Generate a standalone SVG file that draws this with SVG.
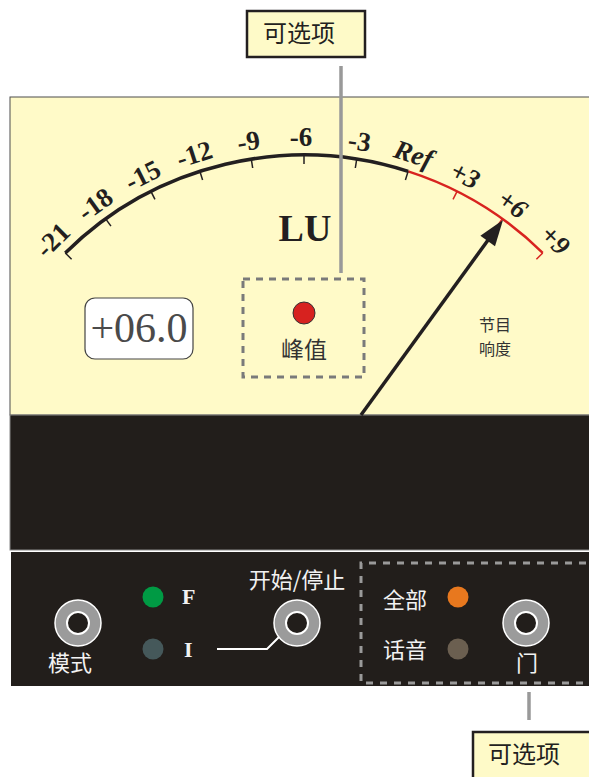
<svg xmlns="http://www.w3.org/2000/svg" width="589" height="777" viewBox="0 0 589 777">
<style>
.cjk{font-family:"Noto Sans CJK SC","Noto Sans",sans-serif}
.lbl{font-family:"Liberation Serif",serif;font-weight:bold;font-size:27px;fill:#231f20;text-anchor:middle}
.it{font-style:italic}
.tick{stroke:#231f20;stroke-width:1.5}
.rtick{stroke:#d8231f;stroke-width:1.5}
.knob-o{fill:#9b9b9b;stroke:#ffffff;stroke-width:1.5}
.knob-i{fill:#221e1b;stroke:#ffffff;stroke-width:2}
.wt{fill:#f2f2f2;font-size:22px}
.callout{fill:#fefac8;stroke:#231f20;stroke-width:2.5}
.lead{stroke:#999999;stroke-width:3.5}
</style>
<!-- panels -->
<g id="meter-face">
<rect x="10" y="97" width="590" height="318" fill="#fffac8" stroke="#4d4d4d" stroke-width="1"/>
<rect x="10" y="415" width="590" height="135" fill="#221e1b" stroke="#888888" stroke-width="1"/>
</g>
<g id="control-panel">
<rect x="11" y="552" width="590" height="134" fill="#221e1b"/>
</g>
<!-- scale -->
<g id="scale">
<path d="M65.3,252.9 A340,340 0 0 1 408.2,171.4" fill="none" stroke="#231f20" stroke-width="3.5"/>
<path d="M408.2,171.4 A340,340 0 0 1 542.7,252.9" fill="none" stroke="#d8231f" stroke-width="2.5"/>
<g>
<line class="tick" x1="304" y1="155" x2="304" y2="164" transform="rotate(-44.6 304 495)"/>
<line class="tick" x1="304" y1="155" x2="304" y2="164" transform="rotate(-35.68 304 495)"/>
<line class="tick" x1="304" y1="155" x2="304" y2="164" transform="rotate(-26.76 304 495)"/>
<line class="tick" x1="304" y1="155" x2="304" y2="164" transform="rotate(-17.84 304 495)"/>
<line class="tick" x1="304" y1="155" x2="304" y2="164" transform="rotate(-8.92 304 495)"/>
<line class="tick" x1="304" y1="155" x2="304" y2="164"/>
<line class="tick" x1="304" y1="155" x2="304" y2="164" transform="rotate(8.92 304 495)"/>
<line class="tick" x1="304" y1="155" x2="304" y2="164" transform="rotate(17.84 304 495)"/>
<line class="rtick" x1="304" y1="155" x2="304" y2="164" transform="rotate(26.76 304 495)"/>
<line class="rtick" x1="304" y1="155" x2="304" y2="164" transform="rotate(35.68 304 495)"/>
<line class="rtick" x1="304" y1="155" x2="304" y2="164" transform="rotate(44.6 304 495)"/>
</g>
<g>
<text class="lbl" x="304" y="146" transform="rotate(-44.6 304 495)">-21</text>
<text class="lbl" x="304" y="146" transform="rotate(-35.68 304 495)">-18</text>
<text class="lbl" x="304" y="146" transform="rotate(-26.76 304 495)">-15</text>
<text class="lbl" x="304" y="146" transform="rotate(-17.84 304 495)">-12</text>
<text class="lbl" x="304" y="146" transform="rotate(-8.92 304 495)">-9</text>
<text class="lbl" x="301" y="146">-6</text>
<text class="lbl" x="304" y="146" transform="rotate(8.92 304 495)">-3</text>
<text class="lbl it" x="304" y="146" transform="rotate(17.84 304 495)">Ref</text>
<text class="lbl it" x="304" y="146" transform="rotate(26.76 304 495)">+3</text>
<text class="lbl it" x="304" y="146" transform="rotate(35.68 304 495)">+6</text>
<text class="lbl it" x="304" y="146" transform="rotate(44.6 304 495)">+9</text>
</g>
<text x="305" y="241" font-family="Liberation Serif, serif" font-weight="bold" font-size="38" fill="#231f20" text-anchor="middle">LU</text>
</g>
<g id="readout">
<rect x="85" y="298" width="108" height="61" rx="10" fill="#ffffff" stroke="#444444" stroke-width="1.2"/>
<text x="139" y="342" font-family="Liberation Serif, serif" font-size="42" fill="#4a4a4a" text-anchor="middle">+06.0</text>
</g>
<g id="peak">
<rect x="243" y="279" width="121" height="98" fill="none" stroke="#7a7a7a" stroke-width="3" stroke-dasharray="7 6"/>
<circle cx="304" cy="313" r="11" fill="#d7221f" stroke="#333333" stroke-width="1"/>
<text class="cjk" x="304" y="358" font-size="23" fill="#333333" text-anchor="middle">峰值</text>
</g>
<g id="program-loudness">
<text class="cjk" x="495" y="331" font-size="16" fill="#333333" text-anchor="middle">节目</text>
<text class="cjk" x="495" y="355" font-size="16" fill="#333333" text-anchor="middle">响度</text>
</g>
<g id="needle">
<line x1="361" y1="415" x2="491" y2="236" stroke="#231f20" stroke-width="3.5"/>
<polygon points="503,220 495,246.3 480.4,235.7" fill="#231f20"/>
</g>
<!-- callouts -->
<g id="callout-top">
<rect class="callout" x="247" y="11" width="118" height="46"/>
<text class="cjk" x="299" y="42" font-size="24" fill="#231f20" text-anchor="middle">可选项</text>
</g>
<g id="callout-bottom">
<rect class="callout" x="473" y="732" width="130" height="60"/>
<text class="cjk" x="488" y="763" font-size="24" fill="#231f20">可选项</text>
</g>
<g id="connectors">
<line class="lead" x1="341" y1="66" x2="341" y2="273"/>
<line class="lead" x1="529" y1="692" x2="529" y2="720"/>
<polyline points="217,649 267,649 279,637" fill="none" stroke="#ffffff" stroke-width="2"/>
</g>
<!-- controls -->
<g id="mode">
<circle class="knob-o" cx="78" cy="623" r="23"/>
<circle class="knob-i" cx="78" cy="623" r="11"/>
<text class="cjk wt" x="70" y="671" text-anchor="middle">模式</text>
</g>
<g id="led-f">
<circle cx="153" cy="597" r="10.5" fill="#009a44"/>
<text x="182" y="604" font-family="Liberation Serif, serif" font-weight="bold" font-size="22" fill="#f2f2f2">F</text>
</g>
<g id="led-i">
<circle cx="153" cy="649" r="10.5" fill="#45585a"/>
<text x="184" y="657" font-family="Liberation Serif, serif" font-weight="bold" font-size="22" fill="#f2f2f2">I</text>
</g>
<g id="start-stop">
<text class="cjk wt" x="297" y="588" font-size="21" text-anchor="middle">开始/停止</text>
<circle class="knob-o" cx="297" cy="623" r="23"/>
<circle class="knob-i" cx="297" cy="623" r="11"/>
</g>
<g id="gate-option">
<path d="M600,563 H361 V683 H600" fill="none" stroke="#9a9a9a" stroke-width="3" stroke-dasharray="7 7"/>
</g>
<g id="led-all">
<text class="cjk wt" x="383" y="608">全部</text>
<circle cx="458" cy="597" r="10.5" fill="#e8781e"/>
</g>
<g id="led-speech">
<text class="cjk wt" x="383" y="658">话音</text>
<circle cx="458" cy="649" r="10.5" fill="#6b5f50"/>
</g>
<g id="gate">
<circle class="knob-o" cx="526" cy="623" r="23"/>
<circle class="knob-i" cx="526" cy="623" r="11"/>
<text class="cjk wt" x="527" y="671" text-anchor="middle">门</text>
</g>
</svg>
